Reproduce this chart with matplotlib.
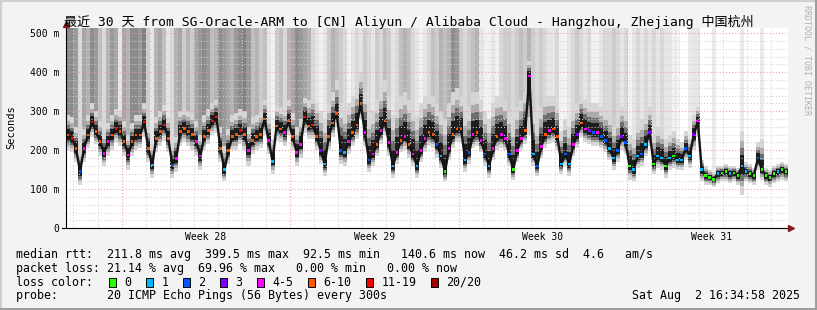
"""SmokePing 30-day latency graph: SG-Oracle-ARM -> Aliyun Hangzhou."""
import datetime as dt

import matplotlib
matplotlib.use("Agg")
import matplotlib.dates as mdates
import matplotlib.pyplot as plt
import numpy as np
from matplotlib.lines import Line2D
from matplotlib.patches import Rectangle

plt.rcParams["font.family"] = ["DejaVu Sans Mono", "Noto Sans CJK SC"]

W, H = 817, 310

END = dt.datetime(2025, 8, 2, 16, 34, 58)
START = END - dt.timedelta(days=30)
STEP = dt.timedelta(hours=4)

# median rtt per 4h bin (ms)
median_ms = [
    239, 231, 205, 145, 205, 239, 273, 248, 222, 192,
    222, 239, 256, 248, 222, 188, 222, 239, 239, 273,
    205, 162, 231, 248, 265, 231, 162, 179, 248, 256,
    248, 240, 222, 185, 235, 250, 275, 285, 205, 150,
    200, 235, 240, 250, 240, 200, 225, 235, 240, 280,
    225, 172, 262, 255, 245, 275, 235, 195, 215, 285,
    262, 265, 235, 200, 165, 235, 270, 295, 200, 195,
    222, 245, 265, 320, 245, 175, 190, 215, 250, 275,
    220, 160, 195, 225, 235, 215, 190, 160, 200, 230,
    245, 240, 215, 185, 145, 205, 240, 255, 255, 175,
    195, 240, 245, 225, 190, 160, 205, 235, 240, 230,
    190, 150, 200, 230, 250, 390, 190, 160, 210, 240,
    250, 255, 235, 165, 190, 165, 215, 240, 270, 255,
    250, 245, 245, 235, 225, 205, 180, 200, 235, 220,
    160, 150, 185, 190, 215, 245, 165, 185, 180, 160,
    180, 185, 175, 175, 205, 185, 240, 275, 150, 135,
    130, 125, 140, 142, 145, 140, 142, 135, 160, 145,
    140, 135, 180, 150, 135, 130, 140, 145, 150, 145,
]

# lower / upper edge of the smoke (ms)
smoke_lo_ms = [
    200, 195, 170, 110, 170, 205, 235, 215, 185, 160,
    185, 200, 220, 210, 185, 150, 185, 200, 205, 235,
    170, 130, 195, 210, 225, 195, 130, 145, 210, 220,
    210, 200, 185, 150, 200, 215, 240, 245, 170, 120,
    165, 200, 200, 215, 200, 160, 190, 200, 205, 240,
    190, 140, 225, 220, 210, 240, 200, 160, 180, 245,
    230, 230, 200, 165, 135, 200, 235, 260, 165, 160,
    190, 210, 230, 280, 210, 145, 160, 185, 215, 240,
    185, 130, 165, 195, 200, 180, 160, 130, 170, 195,
    210, 205, 180, 155, 120, 175, 205, 220, 220, 145,
    165, 205, 210, 195, 160, 130, 175, 200, 205, 200,
    160, 125, 170, 200, 215, 240, 160, 135, 180, 205,
    215, 220, 200, 140, 160, 135, 185, 205, 235, 220,
    215, 210, 210, 205, 195, 175, 150, 170, 200, 190,
    125, 120, 155, 160, 185, 210, 140, 155, 150, 130,
    150, 155, 150, 150, 175, 155, 200, 235, 120, 110,
    110, 105, 115, 120, 120, 115, 120, 110, 85, 120,
    115, 110, 150, 125, 110, 105, 115, 120, 125, 120,
]
smoke_hi_ms = [
    290, 285, 260, 200, 255, 290, 320, 300, 275, 245,
    270, 290, 305, 300, 275, 240, 270, 290, 290, 320,
    260, 215, 285, 300, 315, 285, 215, 235, 300, 305,
    300, 295, 275, 240, 290, 305, 320, 330, 260, 210,
    255, 290, 295, 305, 300, 260, 285, 290, 300, 330,
    285, 230, 315, 310, 305, 330, 295, 260, 280, 335,
    330, 340, 320, 300, 280, 320, 350, 380, 320, 300,
    320, 340, 360, 400, 350, 290, 300, 330, 360, 380,
    340, 290, 320, 340, 350, 330, 310, 290, 320, 340,
    350, 340, 320, 300, 280, 320, 350, 360, 340, 300,
    310, 350, 350, 330, 300, 280, 320, 340, 340, 330,
    300, 270, 310, 330, 350, 430, 300, 270, 310, 340,
    340, 340, 320, 250, 280, 260, 300, 320, 340, 330,
    320, 320, 320, 310, 300, 290, 260, 280, 310, 300,
    240, 230, 270, 280, 290, 310, 240, 260, 250, 230,
    240, 250, 230, 220, 250, 230, 290, 310, 175, 160,
    150, 145, 160, 160, 165, 160, 160, 155, 250, 170,
    165, 155, 220, 230, 155, 150, 160, 165, 170, 165,
]

# darkness of the off-scale smoke reaching the top (0 = none)
spike_shade = [
    .45, .45, .40, .15, .35, .30, .45, .40, .25, .15,
    .30, .40, .35, .10, .35, .30, .45, .45, .40, .50,
    .20, .10, .30, .35, .25, .10, .15, .30, .35, .20,
    .30, .20, .35, .40, .45, .40, .25, .30, .45, .40,
    .35, .30, .40, .45, .50, .40, .25, .30, .20, .25,
    .10, .05, .20, .25, .15, .30, .35, .45, .40, .35,
    .30, .15, .10, .05, .10, .20, .30, .25, .20, .15,
    .05, .10, .15, .10, .20, .15, .10, .20, .15, .25,
    .20, .10, .15, .25, .30, .25, .15, .10, .05, .10,
    .15, .25, .20, .30, .25, .30, .45, .40, .20, .15,
    .20, .25, .30, .10, .05, .05, .10, .05, .15, .20,
    .20, .15, .20, .25, .20, .30, .20, .15, .20, .15,
    .10, .10, .15, .05, .05, .10, .15, .20, .15, .10,
    .15, .05, .05, .10, .15, .15, .20, .15, .10, .15,
    .05, .10, .15, .10, .15, .10, .15, .10, .15, .10,
    .10, .05, .05, 0, 0, .08, .10, .10, 0, 0,
    0, .08, 0, 0, 0, 0, 0, 0, .08, 0,
    0, 0, 0, .08, 0, 0, 0, 0, 0, 0,
]

# index into loss_labels per bin
loss_level = [
    5, 6, 5, 2, 4, 5, 6, 5, 5, 4,
    4, 5, 6, 5, 5, 4, 5, 5, 5, 6,
    5, 1, 5, 5, 6, 5, 2, 4, 5, 5,
    5, 5, 4, 4, 5, 5, 6, 6, 5, 1,
    5, 5, 5, 6, 5, 4, 5, 5, 5, 5,
    4, 1, 5, 5, 4, 5, 5, 4, 4, 6,
    5, 6, 5, 3, 1, 5, 5, 5, 2, 1,
    4, 5, 5, 5, 4, 2, 4, 5, 4, 5,
    4, 1, 4, 5, 4, 5, 4, 1, 4, 4,
    5, 5, 2, 1, 0, 4, 5, 5, 5, 1,
    2, 4, 5, 4, 2, 1, 4, 5, 4, 4,
    2, 0, 4, 4, 5, 4, 1, 2, 4, 5,
    4, 5, 5, 1, 2, 1, 4, 3, 5, 4,
    3, 2, 4, 2, 2, 1, 1, 2, 3, 2,
    0, 1, 1, 2, 1, 3, 0, 1, 1, 0,
    1, 0, 1, 1, 2, 1, 3, 4, 1, 0,
    0, 0, 1, 0, 0, 1, 0, 0, 1, 1,
    0, 0, 2, 0, 0, 0, 0, 1, 0, 0,
]

loss_labels = ["0", "1", "2", "3", "4-5", "6-10", "11-19", "20/20"]
loss_colors = ["#26ff00", "#00b8ff", "#0059ff", "#7e00ff",
               "#ff00ff", "#ff5500", "#ff0000", "#a10000"]

title = ("最近 30 天 from SG-Oracle-ARM to [CN] Aliyun / Alibaba Cloud - "
         "Hangzhou, Zhejiang 中国杭州")
rtt_line = ("median rtt:  211.8 ms avg  399.5 ms max  92.5 ms min   "
            "140.6 ms now  46.2 ms sd  4.6   am/s")
loss_line = "packet loss: 21.14 % avg  69.96 % max   0.00 % min   0.00 % now"
probe_line = "probe:       20 ICMP Echo Pings (56 Bytes) every 300s"
stamp = "Sat Aug  2 16:34:58 2025"

Y_TOP = 512.8


def fx(px):
    return px / W


def fy(py):
    return 1 - py / H


fig = plt.figure(figsize=(W / 100, H / 100), dpi=100)
fig.patch.set_facecolor("#f3f3f3")
ax = fig.add_axes([fx(66), fy(228.3), 722 / W, 200 / H])
ax.set_facecolor("white")

n = len(median_ms)
x0 = mdates.date2num([START + i * STEP for i in range(n)])
bw = STEP / dt.timedelta(days=1)
med = np.array(median_ms, float)
lo = np.array(smoke_lo_ms, float)
hi = np.array(smoke_hi_ms, float)
shade = np.array(spike_shade, float)

# off-scale smoke going to the top
m = shade > 0
ax.bar(x0[m], Y_TOP - med[m], bottom=med[m], width=bw, align="edge", lw=0,
       zorder=1, color=[(1 - s,) * 3 for s in shade[m]])

# smoke, darker toward the median
for frac, col in zip([1.0, 0.7, 0.5, 0.32],
                     ["#d6d6d6", "#ababab", "#6e6e6e", "#1e1e1e"]):
    b = med - frac * (med - lo)
    t = med + frac * (hi - med)
    ax.bar(x0, t - b, bottom=b, width=bw, align="edge", color=col, lw=0, zorder=1.5)

ax.plot(x0 + bw / 2, med, color="#141414", lw=1.7, zorder=3)
ax.scatter(x0 + bw / 2, med, c=[loss_colors[k] for k in loss_level],
           marker="s", s=3.5, lw=0, zorder=4)

ax.set_xlim(mdates.date2num(START), mdates.date2num(END))
ax.set_ylim(0, Y_TOP)

# grid
dots = (0, (1, 2))
ax.set_yticks(range(0, 501, 100))
ax.set_yticklabels(["0"] + [f"{v} m" for v in range(100, 501, 100)])
ax.set_yticks(range(0, 513, 20), minor=True)
ax.grid(which="minor", axis="y", color="#d0d0d0", ls=dots, lw=0.75, zorder=2)
ax.grid(which="major", axis="y", color="#eb9f9f", ls=dots, lw=0.75, zorder=2)

day = dt.datetime.combine(START.date() + dt.timedelta(days=1), dt.time())
week_mid = []
while day < END:
    sunday = day.weekday() == 6
    ax.axvline(mdates.date2num(day), color="#eb9f9f" if sunday else "#d0d0d0",
               ls=dots, lw=0.75, zorder=2)
    if sunday and day + dt.timedelta(days=3.5) < END:
        week_mid.append(day + dt.timedelta(days=3.5))
    day += dt.timedelta(days=1)

ax.set_xticks(mdates.date2num(week_mid))
ax.set_xticklabels([d.strftime("Week %V") for d in week_mid])
ax.tick_params(axis="both", which="both", length=0, labelsize=7, colors="black")
ax.tick_params(axis="x", pad=3)
ax.tick_params(axis="y", pad=5)

for side in ("top", "right", "left", "bottom"):
    ax.spines[side].set_visible(False)
ax.plot([-4 / 722, 1.003], [0, 0], color="black", lw=0.8, transform=ax.transAxes,
        clip_on=False, zorder=5)
ax.plot([0, 0], [0, 1.02], color="black", lw=0.8, transform=ax.transAxes,
        clip_on=False, zorder=5)
ax.plot([1.004], [0], marker=">", ms=4, color="#8b1a1a", transform=ax.transAxes,
        clip_on=False, zorder=6)
ax.plot([0], [1.022], marker="^", ms=4, color="#8b1a1a", transform=ax.transAxes,
        clip_on=False, zorder=6)

# texts
fig.text(fx(408.5), fy(21.5), title, ha="center", va="center", fontsize=9.4)
fig.text(fx(11), fy(127), "Seconds", rotation=90, ha="center", va="center",
         fontsize=7.5)
fig.text(fx(807.5), fy(60), "RRDTOOL / TOBI OETIKER", rotation=270,
         ha="center", va="center", fontsize=6, color="#b0b0b0")

legend_fs = 8.37
fig.text(fx(16), fy(254.3), rtt_line, ha="left", va="center", fontsize=legend_fs)
fig.text(fx(16), fy(268.3), loss_line, ha="left", va="center", fontsize=legend_fs)
fig.text(fx(16), fy(282), "loss color:", ha="left", va="center", fontsize=legend_fs)
fig.text(fx(16), fy(296), probe_line, ha="left", va="center", fontsize=legend_fs)
fig.text(fx(800), fy(296), stamp, ha="right", va="center", fontsize=legend_fs)

cursor = 108.7
for lab, col in zip(loss_labels, loss_colors):
    fig.add_artist(Rectangle((fx(cursor), fy(286.5)), 7.5 / W, 9 / H,
                             transform=fig.transFigure, facecolor=col,
                             edgecolor="black", lw=0.7))
    lx = cursor + 15.5
    fig.text(fx(lx), fy(282), lab, ha="left", va="center", fontsize=legend_fs)
    cursor = lx + 7.0 * len(lab) + 14.5

# bevelled frame
fig.add_artist(Line2D([0, 1], [fy(0.7), fy(0.7)], color="#cfcfcf", lw=1.5))
fig.add_artist(Line2D([fx(0.7), fx(0.7)], [0, 1], color="#cfcfcf", lw=1.5))
fig.add_artist(Line2D([0, 1], [fy(309.2), fy(309.2)], color="#9e9e9e", lw=1.5))
fig.add_artist(Line2D([fx(816.2), fx(816.2)], [0, 1], color="#9e9e9e", lw=1.5))

fig.savefig("out.png", dpi=100, facecolor=fig.get_facecolor())
